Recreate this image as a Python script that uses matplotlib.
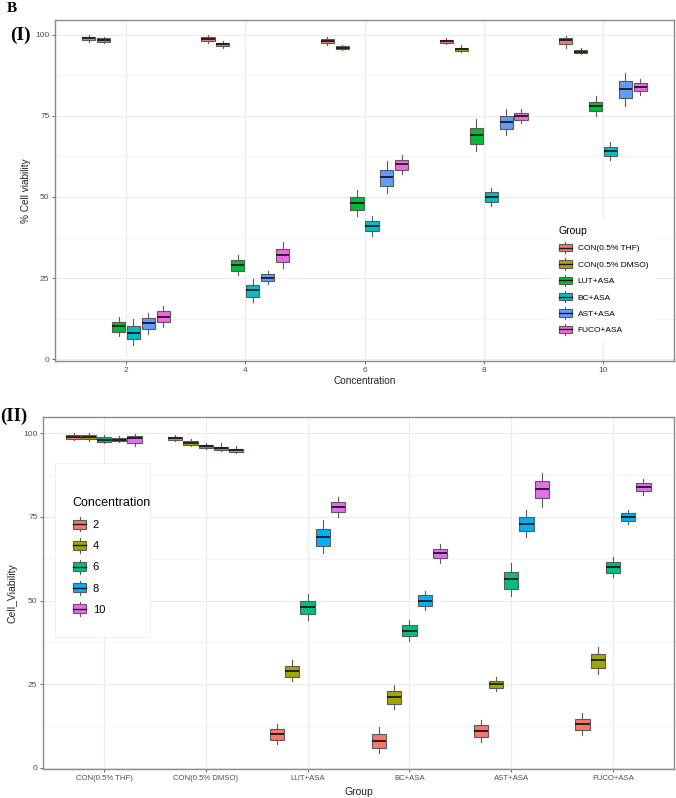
import numpy as np
import matplotlib
matplotlib.use("Agg")
import matplotlib.pyplot as plt
from matplotlib.patches import Patch, Rectangle
from matplotlib.lines import Line2D
from matplotlib.legend_handler import HandlerBase

plt.rcParams['font.family'] = ['Liberation Sans', 'DejaVu Sans']

concentrations = [2, 4, 6, 8, 10]
groups = ['CON(0.5% THF)', 'CON(0.5% DMSO)', 'LUT+ASA', 'BC+ASA', 'AST+ASA', 'FUCO+ASA']

# rows = groups, columns = concentrations
whis_lo = [[97.9, 97.6, 96.9, 97.2, 96.1],
           [97.6, 96.1, 95.2, 94.6, 94.1],
           [7.2, 26.0, 44.2, 64.3, 75.0],
           [4.4, 17.5, 38.0, 47.2, 61.3],
           [7.8, 23.1, 51.3, 69.0, 78.0],
           [10.0, 28.1, 57.0, 72.8, 81.5]]
q1 = [[98.3, 98.1, 97.4, 97.5, 97.1],
      [97.9, 96.5, 95.5, 94.9, 94.3],
      [8.4, 27.3, 45.9, 66.3, 76.4],
      [6.1, 19.1, 39.4, 48.4, 62.6],
      [9.3, 24.0, 53.4, 70.9, 80.5],
      [11.3, 29.9, 58.3, 73.8, 82.7]]
median = [[98.9, 98.7, 98.0, 98.0, 98.4],
          [98.4, 97.1, 96.0, 95.5, 94.8],
          [10.1, 29.1, 48.2, 69.1, 78.0],
          [8.1, 21.3, 41.0, 50.0, 64.1],
          [11.0, 25.0, 56.3, 73.0, 83.3],
          [13.1, 32.2, 60.1, 75.0, 84.0]]
q3 = [[99.5, 99.3, 98.7, 98.5, 99.2],
      [98.9, 97.6, 96.5, 95.9, 95.3],
      [11.5, 30.6, 49.9, 71.4, 79.4],
      [10.1, 22.9, 42.7, 51.6, 65.4],
      [12.7, 26.1, 58.4, 75.0, 85.7],
      [14.7, 34.0, 61.5, 76.0, 85.1]]
whis_hi = [[100.1, 100.0, 99.4, 99.2, 99.8],
           [99.4, 98.1, 97.0, 97.0, 96.0],
           [13.1, 32.2, 52.1, 74.0, 81.0],
           [12.3, 24.7, 44.2, 52.9, 66.9],
           [14.3, 27.1, 61.1, 77.0, 88.1],
           [16.3, 36.2, 63.1, 77.0, 86.3]]

group_colors = ['#F8766D', '#B79F00', '#00BA38', '#00BFC4', '#619CFF', '#F564E3']
conc_colors = ['#F8766D', '#A3A500', '#00BF7D', '#00B0F6', '#E76BF3']

TICK = '#4D4D4D'
EDGE = '#5A5A5A'


class BoxKey(HandlerBase):
    def create_artists(self, legend, orig_handle, xdescent, ydescent,
                       width, height, fontsize, trans):
        fc = orig_handle.get_facecolor()
        x0, y0 = -xdescent, -ydescent
        cx, cy = x0 + width / 2, y0 + height / 2
        stub = height * 0.3
        up = Line2D([cx, cx], [y0 + height, y0 + height + stub], color=EDGE, lw=0.8, transform=trans)
        dn = Line2D([cx, cx], [y0 - stub, y0], color=EDGE, lw=0.8, transform=trans)
        box = Rectangle((x0, y0), width, height, facecolor=fc, edgecolor=EDGE, lw=0.8, transform=trans)
        med = Line2D([x0, x0 + width], [cy, cy], color='#1A1A1A', lw=1.0, transform=trans)
        return [up, dn, box, med]


def draw_box(ax, pos, i, j, color, width):
    st = [dict(med=median[i][j], q1=q1[i][j], q3=q3[i][j],
               whislo=whis_lo[i][j], whishi=whis_hi[i][j], fliers=[])]
    ax.bxp(st, positions=[pos], widths=width, patch_artist=True,
           showfliers=False, showcaps=False, manage_ticks=False,
           boxprops=dict(facecolor=color, edgecolor=EDGE, linewidth=0.8),
           medianprops=dict(color='#1A1A1A', linewidth=1.3),
           whiskerprops=dict(color=EDGE, linewidth=0.8))


def style_axes(ax):
    ax.set_facecolor('white')
    ax.set_axisbelow(True)
    for s in ax.spines.values():
        s.set_color('#8A8A8A')
        s.set_linewidth(1.0)
    ax.tick_params(colors=TICK, length=2.5, width=0.6, pad=1.5, labelsize=6)
    ax.set_yticks([0, 25, 50, 75, 100])
    ax.set_yticks([12.5, 37.5, 62.5, 87.5], minor=True)
    ax.tick_params(which='minor', length=0)
    ax.grid(True, which='major', color='#EBEBEB', linewidth=0.8)
    ax.grid(True, which='minor', axis='y', color='#F3F3F3', linewidth=0.6)


fig = plt.figure(figsize=(6.76, 7.98), dpi=100)

# ---- panel I: x = concentration, colour = group
ax1 = fig.add_axes([55 / 676, 1 - 361 / 798, 619 / 676, 341 / 798])
style_axes(ax1)
offsets1 = np.arange(6) * 0.25 - 0.625
for i in range(len(groups)):
    for j, c in enumerate(concentrations):
        draw_box(ax1, c + offsets1[i], i, j, group_colors[i], 0.22)
ax1.set_xlim(0.81, 11.19)
ax1.set_ylim(-0.6, 104.6)
ax1.set_xticks(concentrations)
ax1.set_xlabel('Concentration', fontsize=7.2, color='#222222', labelpad=2)
ax1.set_ylabel('% Cell viability', fontsize=7.2, color='#222222', labelpad=3)

h1 = [Patch(facecolor=c) for c in group_colors]
leg1 = ax1.legend(h1, groups, handler_map={Patch: BoxKey()}, loc='upper left',
                  bbox_to_anchor=(0.795, 0.43), fontsize=6, title='Group',
                  title_fontsize=7.5, frameon=True, facecolor='white', edgecolor='none',
                  framealpha=1, handlelength=1.56, handleheight=0.95,
                  handletextpad=0.7, labelspacing=0.95, borderpad=0.9)
leg1._legend_box.align = 'left'

# ---- panel II: x = group, colour = concentration
ax2 = fig.add_axes([43 / 676, 1 - 769 / 798, 631 / 676, 352 / 798])
style_axes(ax2)
offsets2 = np.arange(5) * 0.15 - 0.30
for i in range(len(groups)):
    for j in range(len(concentrations)):
        draw_box(ax2, i + offsets2[j], i, j, conc_colors[j], 0.14)
ax2.set_xlim(-0.6, 5.6)
ax2.set_ylim(-0.3, 104.8)
ax2.set_xticks(range(len(groups)))
ax2.set_xticklabels(groups, fontsize=5.6)
ax2.set_xlabel('Group', fontsize=7.5, color='#222222', labelpad=4)
ax2.set_ylabel('Cell_Viability', fontsize=7.5, color='#222222', labelpad=4)

ax2.add_patch(Rectangle((0.019, 0.375), 0.151, 0.494, transform=ax2.transAxes,
                        facecolor='white', edgecolor='#EEEEEE', lw=0.6, zorder=1))
h2 = [Patch(facecolor=c) for c in conc_colors]
leg2 = ax2.legend(h2, [str(c) for c in concentrations], handler_map={Patch: BoxKey()},
                  loc='upper left', bbox_to_anchor=(0.035, 0.795), fontsize=8,
                  title='Concentration', title_fontsize=9, frameon=False,
                  handlelength=1.2, handleheight=0.85, handletextpad=0.6,
                  labelspacing=0.98, borderpad=0.2)
leg2._legend_box.align = 'left'

# panel tags
fig.text(7 / 676, 1 - 9 / 798, 'B', fontsize=11, fontweight='bold',
         family='Liberation Serif', va='center', ha='left')
fig.text(10 / 676, 1 - 35 / 798, '(I)', fontsize=14, fontweight='bold',
         family='Liberation Serif', va='center', ha='left')
fig.text(0 / 676, 1 - 416 / 798, '(II)', fontsize=13.5, fontweight='bold',
         family='Liberation Serif', va='center', ha='left')

fig.savefig('out.png', dpi=100, facecolor='white')
